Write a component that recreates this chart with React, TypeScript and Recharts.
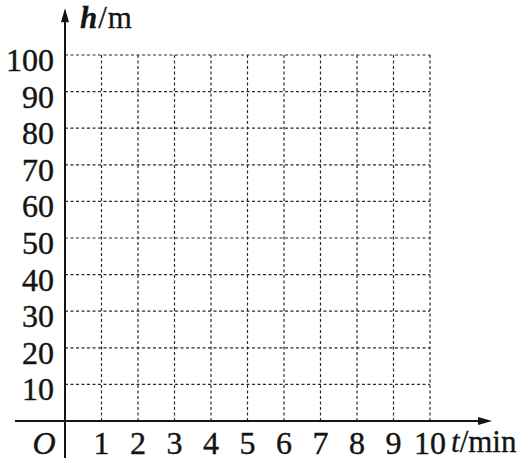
import React from "react";
import { ComposedChart, XAxis, YAxis, CartesianGrid, ReferenceLine } from "recharts";

const xTicks = [0, 1, 2, 3, 4, 5, 6, 7, 8, 9, 10];
const yTicks = [0, 10, 20, 30, 40, 50, 60, 70, 80, 90, 100];
const xVar = "t";
const xUnit = "/min";
const yVar = "h";
const yUnit = "/m";
const originLabel = "O";

const data = xTicks.map((t) => ({ t }));

const FONT = "'Liberation Serif', 'Times New Roman', serif";
const INK = "#141414";

const XTick = (props: any) => {
  const { x, y, payload } = props;
  if (payload.value === 0) {
    return (
      <text x={x - 21} y={y + 31} textAnchor="middle" fontFamily={FONT} fontSize={32} fontStyle="italic" fill={INK} stroke={INK} strokeWidth={0.4}>
        {originLabel}
      </text>
    );
  }
  return (
    <text x={x} y={y + 31} textAnchor="middle" fontFamily={FONT} fontSize={32} fill={INK} stroke={INK} strokeWidth={0.4}>
      {payload.value}
    </text>
  );
};

const YTick = (props: any) => {
  const { x, y, payload } = props;
  if (payload.value === 0) return <g />;
  return (
    <text x={x - 9} y={y + 16} textAnchor="end" fontFamily={FONT} fontSize={32} fill={INK} stroke={INK} strokeWidth={0.4}>
      {payload.value}
    </text>
  );
};

const ArrowLine = (props: any) => {
  const { x1, y1, x2, y2 } = props;
  const dx = x2 - x1;
  const dy = y2 - y1;
  const len = Math.hypot(dx, dy) || 1;
  const ux = dx / len;
  const uy = dy / len;
  const L = 14;
  const W = 4;
  const bx = x2 - ux * L;
  const by = y2 - uy * L;
  const px = -uy;
  const py = ux;
  return (
    <g>
      <line x1={x1} y1={y1} x2={bx + ux * 2} y2={by + uy * 2} stroke={INK} strokeWidth={2} />
      <polygon
        points={`${x2},${y2} ${bx + px * W},${by + py * W} ${bx - px * W},${by - py * W}`}
        fill={INK}
      />
    </g>
  );
};

export default function App() {
  return (
    <div style={{ position: "fixed", left: 0, top: 0, width: 530, height: 463, background: "#fff" }}>
      <ComposedChart
        width={530}
        height={463}
        data={data}
        margin={{ top: 55, right: 100, bottom: 0, left: 0 }}
      >
        <CartesianGrid stroke="#2a2a2a" strokeWidth={1.2} strokeDasharray="3 2.5" />
        <XAxis
          dataKey="t"
          type="number"
          domain={[0, 10]}
          allowDataOverflow
          ticks={xTicks}
          interval={0}
          height={42}
          axisLine={false}
          tickLine={false}
          tickSize={0}
          tick={<XTick />}
        />
        <YAxis
          type="number"
          domain={[0, 100]}
          allowDataOverflow
          ticks={yTicks}
          interval={0}
          width={65}
          axisLine={false}
          tickLine={false}
          tickSize={0}
          tick={<YTick />}
        />
        <ReferenceLine
          segment={[{ x: -1.37, y: 0 }, { x: 11.7, y: 0 }]}
          ifOverflow="visible"
          shape={ArrowLine}
        />
        <ReferenceLine
          segment={[{ x: 0, y: -10.1 }, { x: 0, y: 112.8 }]}
          ifOverflow="visible"
          shape={ArrowLine}
        />
      </ComposedChart>
      <svg width={530} height={463} style={{ position: "absolute", left: 0, top: 0, pointerEvents: "none" }}>
        <text x={80} y={28} fontFamily={FONT} fontSize={31} fill={INK} stroke={INK} strokeWidth={0.3} letterSpacing={1}>
          <tspan fontStyle="italic" fontWeight="bold">{yVar}</tspan>
          <tspan>{yUnit}</tspan>
        </text>
        <text x={451} y={452} fontFamily={FONT} fontSize={31} fill={INK} stroke={INK} strokeWidth={0.3}>
          <tspan fontStyle="italic">{xVar}</tspan>
          <tspan>{xUnit}</tspan>
        </text>
      </svg>
    </div>
  );
}
